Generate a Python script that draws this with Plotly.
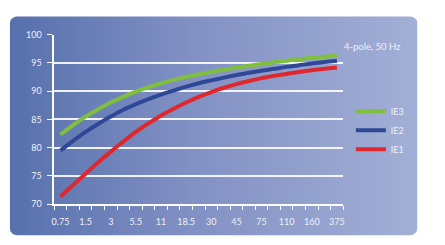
import numpy as np
import plotly.graph_objects as go

# Data
power_kw = ["0.75", "1.1", "1.5", "2.2", "3", "4", "5.5", "7.5", "11", "15", "18.5", "22",
            "30", "37", "45", "55", "75", "90", "110", "132", "160", "200", "375"]
ie3 = [82.3, 84.0, 85.5, 86.8, 88.0, 89.0, 89.9, 90.7, 91.4, 92.0, 92.5, 93.0,
       93.4, 93.8, 94.15, 94.5, 94.8, 95.1, 95.4, 95.65, 95.9, 96.1, 96.3]
ie2 = [79.5, 81.2, 82.8, 84.2, 85.5, 86.7, 87.7, 88.6, 89.4, 90.1, 90.8, 91.4,
       91.9, 92.4, 92.85, 93.25, 93.6, 93.95, 94.3, 94.6, 94.9, 95.15, 95.4]
ie1 = [71.3, 73.4, 75.4, 77.4, 79.3, 81.1, 82.8, 84.3, 85.7, 86.9, 88.0, 89.0,
       89.85, 90.6, 91.25, 91.8, 92.3, 92.7, 93.05, 93.4, 93.7, 93.95, 94.2]
shown_labels = ["0.75", "1.5", "3", "5.5", "11", "18.5", "30", "45", "75", "110", "160", "375"]
y_ticks = [70, 75, 80, 85, 90, 95, 100]

W, H = 445, 245
FONT = "Lato"
TXT = "#eef1f8"

idx = list(range(len(power_kw)))
label_pos = [power_kw.index(l) for l in shown_labels]

fig = go.Figure()

# Background panel (rounded rectangle with horizontal gradient) on a full-figure axis
x0, x1, y0, y1, r = 7, 418, 11, 240, 7
px, py = [], []
for cx, cy, a0 in [(x1 - r, y0 + r, -90), (x1 - r, y1 - r, 0), (x0 + r, y1 - r, 90), (x0 + r, y0 + r, 180)]:
    for a in np.linspace(a0, a0 + 90, 8):
        px.append(cx + r * np.cos(np.radians(a)))
        py.append(cy + r * np.sin(np.radians(a)))
px.append(px[0]); py.append(py[0])
fig.add_trace(go.Scatter(
    x=px, y=py, mode="lines", line=dict(width=0), fill="toself",
    fillgradient=dict(type="horizontal",
                      colorscale=[[0, "#5670ad"], [0.45, "#8291c4"], [1, "#a2afd6"]]),
    hoverinfo="skip", showlegend=False, xaxis="x", yaxis="y"))

for name, vals, col in [("IE1", ie1, "#e0272b"), ("IE2", ie2, "#2e4796"), ("IE3", ie3, "#80bf3e")]:
    fig.add_trace(go.Scatter(
        x=idx, y=vals, mode="lines", name=name,
        line=dict(color=col, width=4, shape="spline", smoothing=1.0),
        xaxis="x2", yaxis="y2"))

pl, pr, pt, pb = 51.7, 343.3, 30.0, 207.5
fig.update_layout(
    width=W, height=H,
    margin=dict(l=0, r=0, t=0, b=0),
    paper_bgcolor="white", plot_bgcolor="rgba(0,0,0,0)",
    font=dict(family=FONT, size=9, color=TXT),
    xaxis=dict(domain=[0, 1], range=[0, W], visible=False, fixedrange=True),
    yaxis=dict(domain=[0, 1], range=[H, 0], visible=False, fixedrange=True),
    xaxis2=dict(domain=[pl / W, pr / W], anchor="y2", range=[-0.5, 22.5],
                tickmode="array", tickvals=label_pos, ticktext=shown_labels,
                ticks="", showgrid=False, zeroline=False,
                showline=True, linecolor="white", linewidth=1.5,
                ticklabelstandoff=8,
                minor=dict(tickmode="array", tickvals=[i - 0.5 for i in range(len(power_kw) + 1)],
                           ticks="outside", ticklen=4, tickcolor="white", tickwidth=1.2, showgrid=False),
                tickfont=dict(family=FONT, size=9, color=TXT)),
    yaxis2=dict(domain=[(H - pb) / H, (H - pt) / H], anchor="x2", range=[70, 100],
                tickmode="array", tickvals=y_ticks,
                ticks="outside", ticklen=5, tickcolor="white", tickwidth=1.2,
                showgrid=True, gridcolor="rgba(255,255,255,0.9)", gridwidth=1.5,
                zeroline=False, showline=True, linecolor="white", linewidth=1.5,
                ticklabelstandoff=4,
                tickfont=dict(family=FONT, size=9, color=TXT)),
    legend=dict(x=351 / W, y=(H - 95) / H, xanchor="left", yanchor="top",
                bgcolor="rgba(0,0,0,0)", traceorder="reversed",
                font=dict(family=FONT, size=9, color=TXT),
                itemwidth=30, tracegroupgap=0),
    annotations=[dict(text="4-pole, 50 Hz", xref="paper", yref="paper",
                      x=372.5 / W, y=(H - 42) / H, xanchor="center", yanchor="middle",
                      showarrow=False, font=dict(family=FONT, size=9.5, color=TXT))],
)

fig.write_html("out.html")
